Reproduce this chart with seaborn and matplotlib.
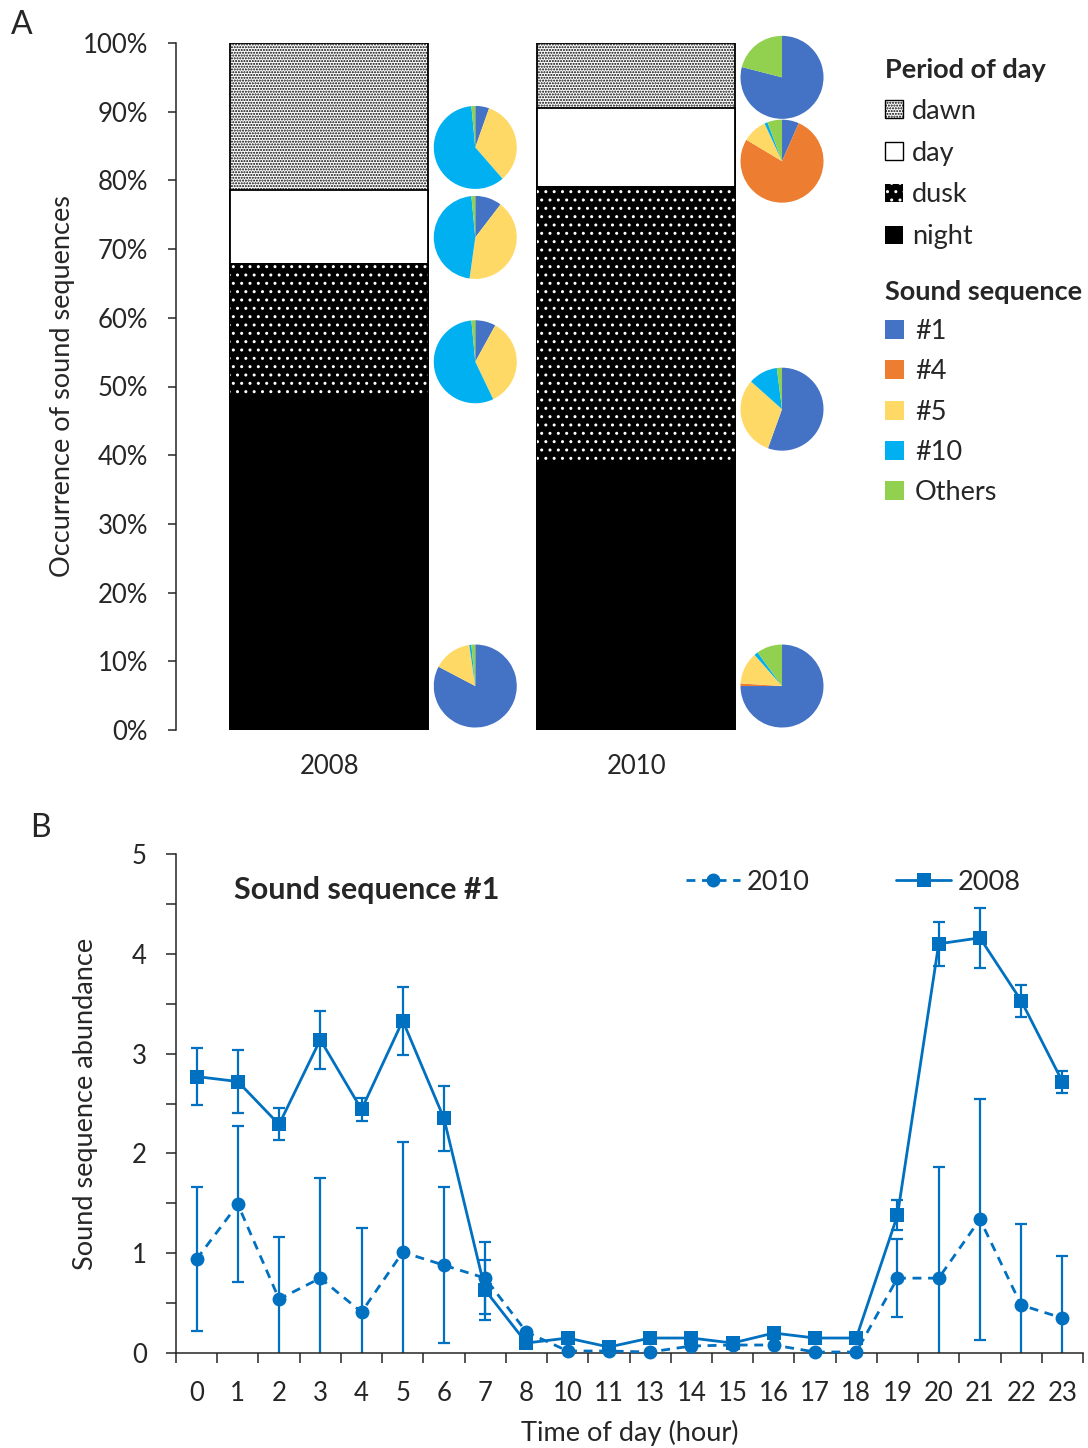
import numpy as np
import pandas as pd
import matplotlib
matplotlib.use("Agg")
import matplotlib.pyplot as plt
from matplotlib.patches import Patch
from matplotlib.lines import Line2D
from matplotlib.ticker import PercentFormatter, MultipleLocator, FixedLocator
import seaborn as sns

# ---------------- data ----------------
years = ["2008", "2010"]
periods = ["dawn", "day", "dusk", "night"]
# occurrence of sound sequences per period of day (%)
share_2008 = [21.4, 10.6, 19.7, 48.3]
share_2010 = [9.5, 11.3, 39.9, 39.3]

sequences = ["#1", "#4", "#5", "#10", "Others"]
# composition of sound sequences within each period (%): #1, #4, #5, #10, Others
pie_2008_dawn = [5.4, 0.0, 33.2, 59.9, 1.5]
pie_2008_day = [10.4, 0.0, 41.8, 46.3, 1.5]
pie_2008_dusk = [8.0, 0.0, 34.9, 55.6, 1.5]
pie_2008_night = [82.7, 0.0, 15.0, 0.8, 1.5]
pie_2010_dawn = [79.0, 0.0, 0.0, 0.0, 21.0]
pie_2010_day = [6.6, 77.0, 9.5, 1.2, 5.7]
pie_2010_dusk = [55.5, 0.0, 31.1, 11.4, 2.0]
pie_2010_night = [75.0, 1.0, 12.5, 1.5, 10.0]

hour_labels = ["0", "1", "2", "3", "4", "5", "6", "7", "8", "10", "11",
               "13", "14", "15", "16", "17", "18", "19", "20", "21", "22", "23"]
abund_2008 = [2.77, 2.72, 2.29, 3.14, 2.44, 3.33, 2.35, 0.63, 0.10, 0.15, 0.06,
              0.15, 0.15, 0.10, 0.20, 0.15, 0.15, 1.38, 4.10, 4.16, 3.53, 2.72]
err_2008 = [0.29, 0.32, 0.16, 0.29, 0.12, 0.34, 0.33, 0.30, 0.0, 0.0, 0.0,
            0.0, 0.0, 0.0, 0.0, 0.0, 0.0, 0.15, 0.22, 0.30, 0.16, 0.11]
abund_2010 = [0.94, 1.49, 0.54, 0.75, 0.41, 1.01, 0.88, 0.75, 0.21, 0.02, 0.02,
              0.01, 0.07, 0.08, 0.08, 0.01, 0.01, 0.75, 0.75, 1.34, 0.48, 0.35]
err_2010 = [0.72, 0.78, 0.62, 1.00, 0.84, 1.10, 0.78, 0.36, 0.0, 0.0, 0.0,
            0.0, 0.0, 0.0, 0.0, 0.0, 0.0, 0.39, 1.11, 1.21, 0.81, 0.62]

# ---------------- style ----------------
seq_colors = ["#4472C4", "#ED7D31", "#FFD966", "#00B0F0", "#92D050"]
line_color = "#0070C0"
TICK_FS = 18.5
FS = 19.5

sns.set_style("ticks")
plt.rcParams["font.family"] = ["Lato", "DejaVu Sans"]
plt.rcParams["hatch.linewidth"] = 1.0
plt.rcParams["axes.linewidth"] = 1.1

W, H = 1088, 1448
fig = plt.figure(figsize=(W / 100, H / 100), dpi=100)

# ---------------- panel A: stacked bars ----------------
axA = fig.add_axes([176 / W, 1 - 730 / H, 613.5 / W, 687 / H])
shares = pd.DataFrame([share_2008, share_2010], columns=periods, index=years)
tops = shares[periods[::-1]].cumsum(axis=1)

bar_styles = {
    "dawn": dict(color="white", edgecolor="black", linewidth=1.3, hatch="......"),
    "day": dict(color="white", edgecolor="black", linewidth=1.3),
    "dusk": dict(color="black", edgecolor="white", linewidth=0, hatch=".."),
    "night": dict(color="black", edgecolor="black", linewidth=0),
}
for period in periods:
    st = dict(bar_styles[period])
    col = st.pop("color")
    sns.barplot(x=years, y=tops[period].values, order=years, color=col,
                saturation=1, width=0.645, errorbar=None, ax=axA, **st)

axA.set_xlim(-0.5, 1.5)
axA.set_ylim(0, 100)
axA.yaxis.set_major_locator(MultipleLocator(10))
axA.yaxis.set_major_formatter(PercentFormatter(decimals=0))
for s in ["top", "right", "bottom"]:
    axA.spines[s].set_visible(False)
axA.tick_params(axis="y", direction="out", length=6, width=1.1, pad=14, labelsize=TICK_FS)
axA.tick_params(axis="x", length=0, pad=17, labelsize=TICK_FS)
axA.set_xlabel("")
axA.set_ylabel("Occurrence of sound sequences", fontsize=FS, labelpad=6)

# pies beside each bar segment
pie_dx = 0.4756
pie_y = {"2008": [84.8, 71.7, 53.6, 6.4], "2010": [95.0, 82.8, 46.7, 6.4]}
pie_vals = {
    "2008": [pie_2008_dawn, pie_2008_day, pie_2008_dusk, pie_2008_night],
    "2010": [pie_2010_dawn, pie_2010_day, pie_2010_dusk, pie_2010_night],
}
pie_d = 83
inv = fig.transFigure.inverted()
for i, yr in enumerate(years):
    for yc, vals in zip(pie_y[yr], pie_vals[yr]):
        fx, fy = inv.transform(axA.transData.transform((i + pie_dx, yc)))
        pax = fig.add_axes([fx - pie_d / 2 / W, fy - pie_d / 2 / H, pie_d / W, pie_d / H])
        pax.pie(vals, colors=seq_colors, startangle=90, counterclock=False,
                wedgeprops=dict(linewidth=0))
        pax.set_xlim(-1, 1)
        pax.set_ylim(-1, 1)
        pax.set_aspect("equal")
        pax.axis("off")

# legends for panel A
period_handles = [
    Patch(facecolor="white", edgecolor="black", hatch="......", linewidth=1),
    Patch(facecolor="white", edgecolor="black", linewidth=1),
    Patch(facecolor="black", edgecolor="white", hatch="..", linewidth=0),
    Patch(facecolor="black", edgecolor="black", linewidth=0),
]
fig.legend(period_handles, periods, title="Period of day", loc="upper left",
           bbox_to_anchor=(885 / W, 1 - 58 / H), frameon=False, alignment="left",
           handlelength=0.65, handleheight=0.65, handletextpad=0.35,
           labelspacing=0.62, fontsize=FS, borderpad=0, borderaxespad=0,
           title_fontproperties={"weight": "bold", "size": FS})
seq_handles = [Patch(facecolor=c, edgecolor="none") for c in seq_colors]
fig.legend(seq_handles, sequences, title="Sound sequence", loc="upper left",
           bbox_to_anchor=(885 / W, 1 - 280 / H), frameon=False, alignment="left",
           handlelength=0.7, handleheight=0.7, handletextpad=0.4,
           labelspacing=0.56, fontsize=FS, borderpad=0, borderaxespad=0,
           title_fontproperties={"weight": "bold", "size": FS})

# ---------------- panel B: hourly abundance ----------------
axB = fig.add_axes([176 / W, 1 - 1353 / H, 907 / W, 499 / H])
pos = np.arange(len(hour_labels))
long_df = pd.DataFrame({
    "pos": np.concatenate([pos, pos]),
    "abundance": abund_2010 + abund_2008,
    "year": ["2010"] * len(pos) + ["2008"] * len(pos),
})
sns.lineplot(data=long_df, x="pos", y="abundance", hue="year", style="year",
             hue_order=["2010", "2008"], style_order=["2010", "2008"],
             palette={"2010": line_color, "2008": line_color},
             markers={"2010": "o", "2008": "s"},
             dashes={"2010": (3.2, 2.4), "2008": ""},
             markersize=10, linewidth=2.0, markeredgewidth=0,
             legend=False, ax=axB, clip_on=False, zorder=3)

for vals, errs in [(abund_2010, err_2010), (abund_2008, err_2008)]:
    v = np.array(vals)
    e = np.array(errs)
    m = e > 0
    axB.errorbar(pos[m], v[m], yerr=e[m], fmt="none", ecolor=line_color,
                 elinewidth=1.6, capsize=4.5, capthick=1.6, zorder=2)

axB.set_xlim(-0.5, len(pos) - 0.5)
axB.set_ylim(0, 5)
axB.xaxis.set_major_locator(FixedLocator(pos))
axB.set_xticklabels(hour_labels)
axB.xaxis.set_minor_locator(FixedLocator(np.arange(len(pos) + 1) - 0.5))
axB.tick_params(axis="x", which="major", length=0, pad=20, labelsize=TICK_FS)
axB.tick_params(axis="x", which="minor", direction="out", length=7, width=1.1)
axB.yaxis.set_major_locator(MultipleLocator(1))
axB.yaxis.set_minor_locator(MultipleLocator(0.5))
axB.tick_params(axis="y", which="major", direction="out", length=7, width=1.1, pad=14,
                labelsize=TICK_FS)
axB.tick_params(axis="y", which="minor", direction="out", length=7, width=1.1)
axB.spines["top"].set_visible(False)
axB.spines["right"].set_visible(False)
axB.set_xlabel("Time of day (hour)", fontsize=FS, labelpad=10)
axB.set_ylabel("Sound sequence abundance", fontsize=FS, labelpad=24)

line_handles = [
    Line2D([], [], color=line_color, lw=2.0, ls=(0, (3.2, 2.4)), marker="o", markersize=10,
           markeredgewidth=0),
    Line2D([], [], color=line_color, lw=2.0, ls="-", marker="s", markersize=10,
           markeredgewidth=0),
]
axB.legend(line_handles, ["2010", "2008"], ncol=2, loc="center left",
           bbox_to_anchor=(686 / W, 1 - 882 / H), bbox_transform=fig.transFigure,
           frameon=False, handlelength=2.0, handletextpad=0.25, columnspacing=3.2,
           fontsize=FS, borderpad=0, borderaxespad=0)

fig.text(234 / W, 1 - 890 / H, "Sound sequence #1", ha="left", va="center",
         fontsize=22, fontweight="bold")

# panel letters
fig.text(22 / W, 1 - 25 / H, "A", ha="center", va="center", fontsize=23)
fig.text(40 / W, 1 - 828 / H, "B", ha="center", va="center", fontsize=23)

fig.savefig("out.png", dpi=100)
